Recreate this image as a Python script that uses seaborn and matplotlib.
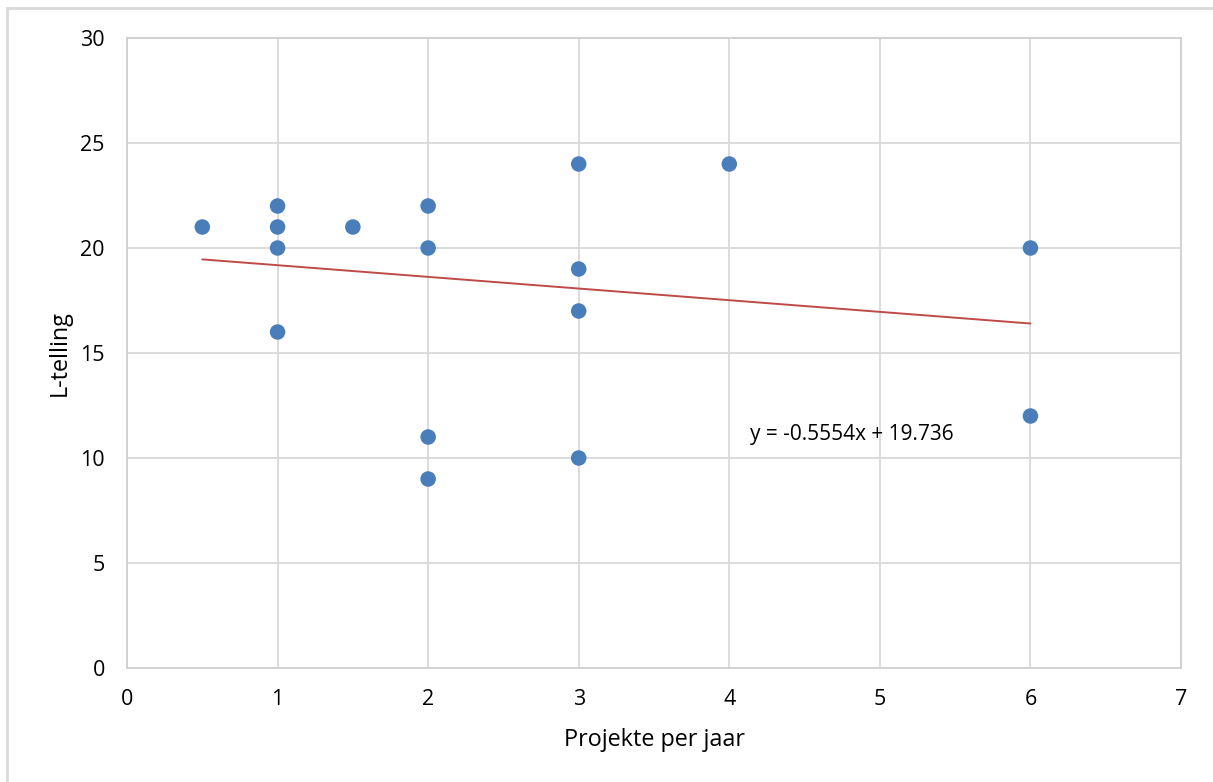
import numpy as np
import pandas as pd
import matplotlib
matplotlib.use("Agg")
import matplotlib.pyplot as plt
import seaborn as sns

# Data
projekte = [0.5, 1, 1, 1, 1, 1.5, 2, 2, 2, 2, 3, 3, 3, 3, 4, 6, 6]
l_telling = [21, 22, 21, 20, 16, 21, 22, 20, 11, 9, 24, 19, 17, 10, 24, 20, 12]
slope = -0.5554
intercept = 19.736
x_ticks = [0, 1, 2, 3, 4, 5, 6, 7]
y_ticks = [0, 5, 10, 15, 20, 25, 30]

sns.set_theme(style="white")
plt.rcParams['font.family'] = ['Open Sans', 'DejaVu Sans']

fig = plt.figure(figsize=(12.13, 7.82), dpi=100)
ax = fig.add_axes([127/1213, 1-668/782, (1181-127)/1213, (668-38)/782])

df = pd.DataFrame({"x": projekte, "y": l_telling})
xs = np.array([min(projekte), max(projekte)])
trend = pd.DataFrame({"x": xs, "y": slope*xs + intercept})

sns.lineplot(data=trend, x="x", y="y", ax=ax, color="#be4b48", linewidth=1.4, zorder=3)
sns.scatterplot(data=df, x="x", y="y", ax=ax, color="#4a7ebb", s=125,
                edgecolor="none", zorder=4)

ax.set_xlim(0, 7)
ax.set_ylim(0, 30)
ax.set_xticks(x_ticks)
ax.set_yticks(y_ticks)
ax.grid(True, color="#d9d9d9", linewidth=1.3)
ax.set_axisbelow(True)
for s in ax.spines.values():
    s.set_color("#d0d0d0")
    s.set_linewidth(1.3)
ax.tick_params(axis="both", length=0, labelsize=15.5, colors="black")
ax.tick_params(axis="x", pad=15)
ax.tick_params(axis="y", pad=16)
ax.set_xlabel("Projekte per jaar", fontsize=16.8, labelpad=13, color="black")
ax.set_ylabel("L-telling", fontsize=16.8, labelpad=6, color="black")

ax.text(4.14, 11.1, "y = -0.5554x + 19.736", fontsize=15, ha="left", va="center", color="black")

# outer chart border (top and left visible)
fig.add_artist(plt.Line2D([7/1213, 7/1213], [0, 1-8/782], transform=fig.transFigure,
                          color="#d9d9d9", linewidth=2))
fig.add_artist(plt.Line2D([7/1213, 1], [1-8/782, 1-8/782], transform=fig.transFigure,
                          color="#d9d9d9", linewidth=2))

fig.savefig("out.png", dpi=100)
